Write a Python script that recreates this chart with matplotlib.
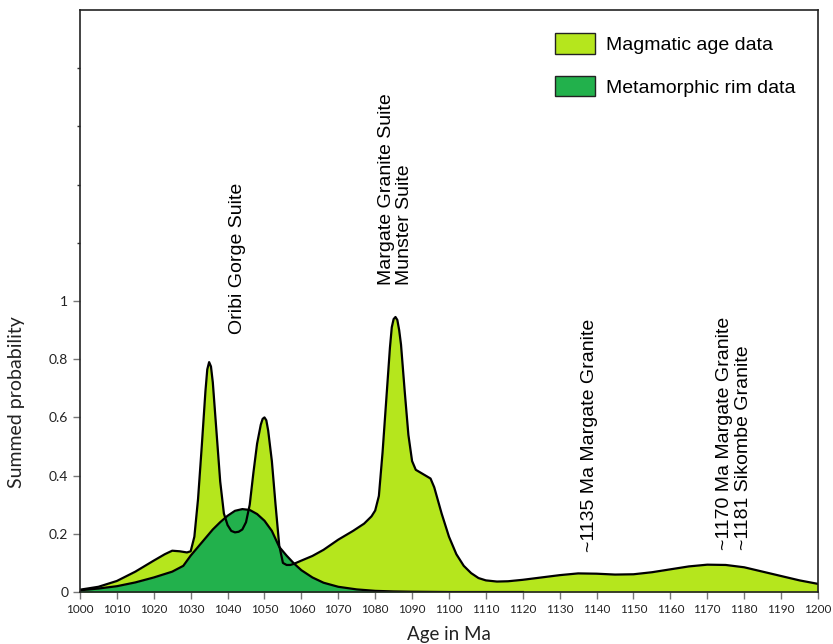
import matplotlib.pyplot as plt
from matplotlib.patches import Patch

# Magmatic age data (summed probability curve)
mag_age = [1000, 1005, 1010, 1015, 1020, 1023, 1025, 1027, 1029, 1030, 1031, 1032, 1033, 1034, 1034.5, 1035,
           1035.5, 1036, 1037, 1038, 1039, 1040, 1041, 1042, 1043, 1044, 1045, 1046, 1047, 1048, 1049, 1049.5,
           1050, 1050.5, 1051, 1052, 1053, 1054, 1055, 1056, 1057, 1058, 1060, 1063, 1066, 1070, 1074, 1077,
           1079, 1080, 1081, 1082, 1083, 1084, 1084.5, 1085, 1085.5, 1086, 1086.5, 1087, 1088, 1089, 1090, 1091,
           1093, 1095, 1096, 1098, 1100, 1102, 1104, 1106, 1108, 1110, 1113, 1116, 1120, 1125, 1130, 1135,
           1140, 1145, 1150, 1155, 1160, 1165, 1170, 1175, 1180, 1185, 1190, 1195, 1200]
mag_prob = [0.008, 0.018, 0.038, 0.07, 0.108, 0.13, 0.142, 0.14, 0.136, 0.14, 0.19, 0.32, 0.5, 0.69, 0.765, 0.79,
            0.775, 0.72, 0.55, 0.38, 0.27, 0.23, 0.21, 0.205, 0.207, 0.215, 0.24, 0.3, 0.41, 0.51, 0.575, 0.595,
            0.6, 0.59, 0.555, 0.45, 0.3, 0.16, 0.1, 0.093, 0.093, 0.097, 0.108, 0.124, 0.145, 0.18, 0.21, 0.235,
            0.26, 0.28, 0.33, 0.48, 0.66, 0.84, 0.91, 0.938, 0.945, 0.935, 0.9, 0.85, 0.69, 0.54, 0.45, 0.42,
            0.405, 0.39, 0.36, 0.27, 0.19, 0.13, 0.09, 0.065, 0.048, 0.04, 0.036, 0.037, 0.042, 0.05, 0.058, 0.064,
            0.063, 0.06, 0.061, 0.068, 0.078, 0.088, 0.094, 0.093, 0.085, 0.07, 0.055, 0.04, 0.028]

# Metamorphic rim data
met_age = [1000, 1005, 1010, 1015, 1020, 1025, 1028, 1030, 1033, 1036, 1038, 1040, 1042, 1044, 1046,
           1048, 1050, 1052, 1054, 1056, 1058, 1060, 1063, 1066, 1070, 1075, 1080, 1085, 1090, 1100,
           1110, 1120]
met_prob = [0.006, 0.012, 0.02, 0.033, 0.05, 0.07, 0.09, 0.125, 0.17, 0.215, 0.24, 0.262, 0.279, 0.285,
            0.282, 0.268, 0.245, 0.21, 0.155, 0.125, 0.098, 0.075, 0.05, 0.032, 0.018, 0.009, 0.004,
            0.002, 0.001, 0.0, 0.0, 0.0]

labels = ["Oribi Gorge Suite", "Margate Granite Suite\nMunster Suite",
          "~1135 Ma Margate Granite", "~1170 Ma Margate Granite\n~1181 Sikombe Granite"]
label_x = [1042.6, 1085.6, 1138, 1177.2]
label_y = [0.885, 1.055, 0.137, 0.144]

light = '#b5e61d'
dark = '#22b14c'

fig = plt.figure(figsize=(8.33, 6.44), dpi=100)
ax = fig.add_axes([0.096, 0.0807, 0.886, 0.9038])

ax.fill_between(mag_age, mag_prob, color=light, lw=0)
ax.fill_between(met_age, met_prob, color=dark, lw=0)
ax.plot(mag_age, mag_prob, color='black', lw=1.6, solid_joinstyle='round')
ax.plot(met_age, met_prob, color='black', lw=1.6, solid_joinstyle='round')

ax.set_xlim(1000, 1200)
ax.set_ylim(0, 2)
ax.set_xticks(range(1000, 1201, 10))
ax.set_xticklabels([str(v) for v in range(1000, 1201, 10)], fontsize=8.5, family='Lato', color='#222222')
ax.set_yticks([0, 0.2, 0.4, 0.6, 0.8, 1])
ax.set_yticklabels(['0', '0.2', '0.4', '0.6', '0.8', '1'], fontsize=10, family='Lato', color='#222222')
ax.set_yticks([1.2, 1.4, 1.6, 1.8], minor=True)
ax.tick_params(axis='both', which='major', length=5, color='#777777', width=1)
ax.tick_params(axis='y', which='minor', length=2, color='#333333', width=1)
for s in ax.spines.values():
    s.set_linewidth(1.2)
    s.set_color('#222222')

ax.set_xlabel('Age in Ma', fontsize=13.5, family='Lato', color='#222222', labelpad=8)
ax.set_ylabel('Summed probability', fontsize=14, family='Lato', color='#222222')
ax.yaxis.set_label_coords(-0.0745, 0.326)

for t, xv, yv in zip(labels, label_x, label_y):
    ax.text(xv, yv, t, rotation=90, ha='center', va='bottom', fontsize=14,
            family='Liberation Sans', multialignment='left', linespacing=1.1)

handles = [Patch(facecolor=light, edgecolor='#222222', lw=1), Patch(facecolor=dark, edgecolor='#222222', lw=1)]
ax.legend(handles, ['Magmatic age data', 'Metamorphic rim data'], loc='upper right',
          bbox_to_anchor=(0.993, 0.99), frameon=False, handlelength=2.06, handleheight=1.24,
          labelspacing=1.13, handletextpad=0.57, prop={'family': 'Liberation Sans', 'size': 14})

fig.savefig('out.png', dpi=100)
